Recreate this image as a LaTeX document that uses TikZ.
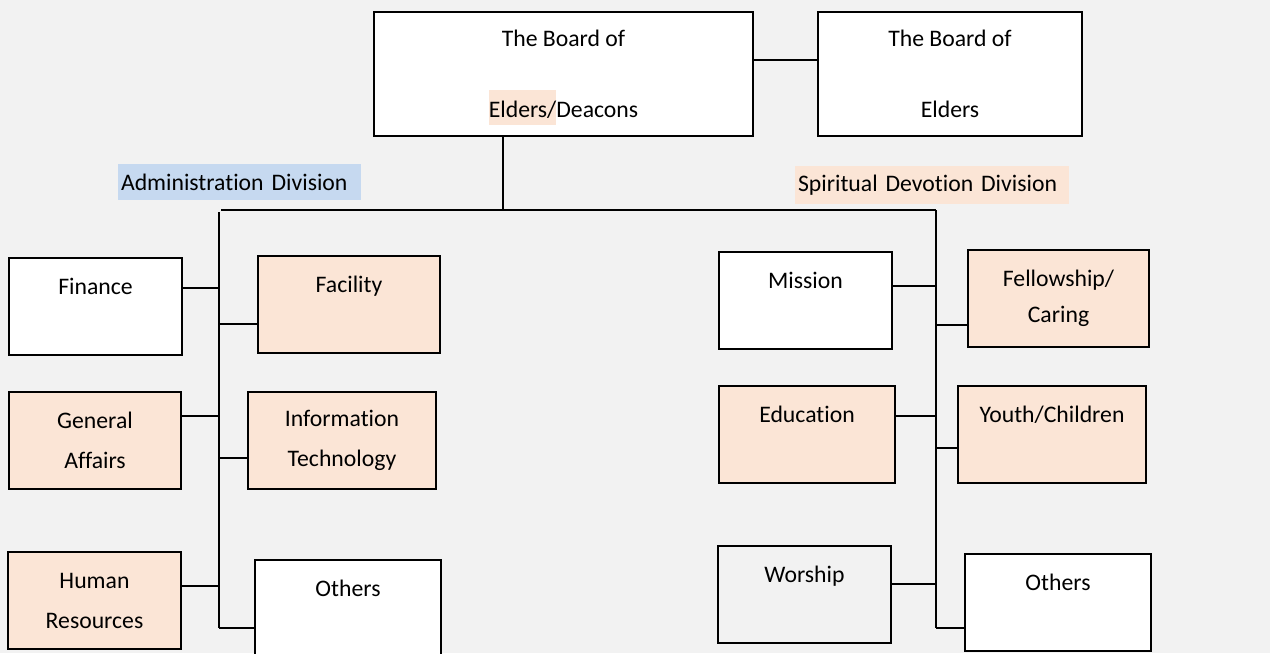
\documentclass[tikz,border=0pt]{standalone}
\usepackage{fontspec}
\setmainfont{Carlito}[Ligatures=NoCommon]

\definecolor{pagebg}{HTML}{F2F2F2}
\definecolor{peach}{HTML}{FBE5D6}
\definecolor{adminblue}{HTML}{C6D9F0}

% highlighted piece of text inside a box
\newcommand{\peachmark}[1]{\smash{\setlength{\fboxsep}{0pt}\colorbox{peach}{\rule[-4.5pt]{0pt}{19.9pt}#1}}}

\tikzset{
  orgtext/.style={font=\fontsize{13.5pt}{22.8pt}\selectfont},
  unit/.style={orgtext, draw, line width=1.1pt, align=center, inner sep=0pt,
    minimum height=1.94cm},
  whiteunit/.style={unit, fill=white},
  peachunit/.style={unit, fill=peach},
  greyunit/.style={unit, fill=pagebg},
  divlabel/.style={orgtext, inner xsep=0.06cm, inner ysep=0pt, align=left},
  link/.style={line width=1.1pt}
}

\begin{document}
\begin{tikzpicture}[x=0.02cm, y=-0.02cm]
      % Draw the background
      \fill[pagebg] (0,0) rectangle (1270,653);
      \useasboundingbox (0,0) rectangle (1270,653);

      % Draw the boards
      \node[whiteunit, minimum width=7.58cm, minimum height=2.48cm] (deacons) at (563.5,74)
        {The Board of\\[17.5pt]\peachmark{Elders/}Deacons};
      \node[whiteunit, minimum width=5.28cm, minimum height=2.48cm] (elders) at (950,74)
        {The Board of\\[17.5pt]Elders};
      \draw[link] (deacons.east |- 0,60) -- (elders.west |- 0,60);

      % Draw the division labels
      \node[divlabel, fill=adminblue, text width=4.74cm, minimum height=0.72cm] (admin) at (239.5,182)
        {Administration Division};
      \node[divlabel, fill=peach, text width=5.36cm, minimum height=0.76cm] (spirit) at (932,185)
        {Spiritual Devotion Division};

      % Draw the bus lines
      \coordinate (split) at (503,210);
      \coordinate (adminbus) at (219,210);
      \coordinate (spiritbus) at (936,210);
      \draw[link] (deacons.south -| split) -- (split);
      \draw[link] (adminbus) ++(2,0) -- (spiritbus);
      \draw[link] (adminbus) ++(0,2) -- (219,628);
      \draw[link] (spiritbus) -- (936,628);

      % Draw the administration units
      \node[whiteunit, minimum width=3.46cm] (finance) at (95.5,306.5) {Finance\\\mbox{}};
      \node[peachunit, minimum width=3.64cm] (facility) at (349,304.5) {Facility\\\mbox{}};
      \node[peachunit, minimum width=3.44cm] (genaffairs) at (95,440.5) {General\\Affairs};
      \node[peachunit, minimum width=3.76cm] (infotech) at (342,440.5) {Information\\Technology};
      \node[peachunit, minimum width=3.46cm] (humanres) at (94.5,600.5) {Human\\Resources};
      \node[whiteunit, minimum width=3.72cm] (adminothers) at (348,608.5) {Others\\\mbox{}};

      \draw[link] (finance.east |- 0,288) -- (adminbus |- 0,288);
      \draw[link] (adminbus |- 0,324) -- (facility.west |- 0,324);
      \draw[link] (genaffairs.east |- 0,416) -- (adminbus |- 0,416);
      \draw[link] (adminbus |- 0,458) -- (infotech.west |- 0,458);
      \draw[link] (humanres.east |- 0,586) -- (adminbus |- 0,586);
      \draw[link] (adminbus |- 0,628) -- (adminothers.west |- 0,628);

      % Draw the spiritual devotion units
      \node[whiteunit, minimum width=3.46cm] (mission) at (805.5,300.5) {Mission\\\mbox{}};
      \node[peachunit, minimum width=3.62cm] (fellowship) at (1058.5,298.5) {Fellowship/\\[-2.3pt]Caring};
      \node[peachunit, minimum width=3.52cm] (education) at (807,434.5) {Education\\\mbox{}};
      \node[peachunit, minimum width=3.76cm] (youth) at (1052,434.5) {Youth/Children\\\mbox{}};
      \node[greyunit, minimum width=3.46cm] (worship) at (804.5,594.5) {Worship\\\mbox{}};
      \node[whiteunit, minimum width=3.72cm] (spiritothers) at (1058,602.5) {Others\\\mbox{}};

      \draw[link] (mission.east |- 0,286) -- (spiritbus |- 0,286);
      \draw[link] (spiritbus |- 0,325) -- (fellowship.west |- 0,325);
      \draw[link] (education.east |- 0,416) -- (spiritbus |- 0,416);
      \draw[link] (spiritbus |- 0,448) -- (youth.west |- 0,448);
      \draw[link] (worship.east |- 0,584) -- (spiritbus |- 0,584);
      \draw[link] (spiritbus |- 0,628) -- (spiritothers.west |- 0,628);
  \end{tikzpicture}
\end{document}
